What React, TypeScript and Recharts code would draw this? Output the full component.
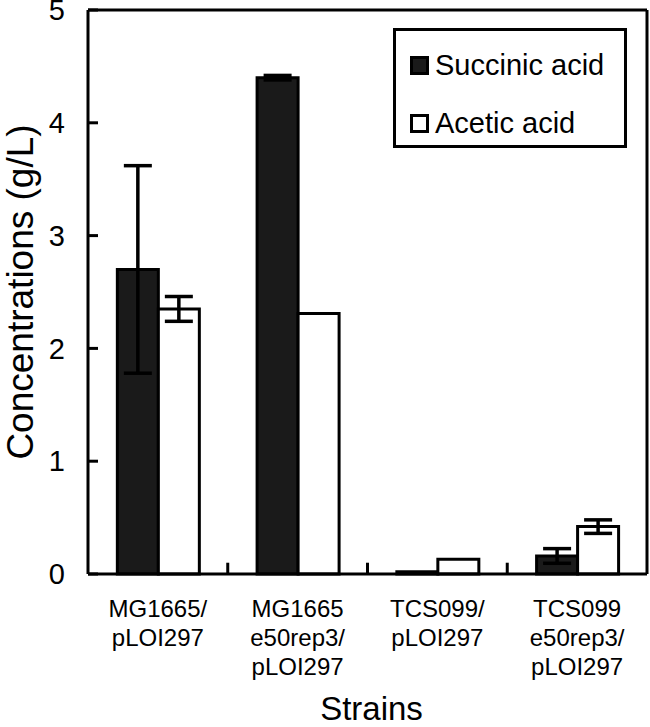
import React from "react";
import { BarChart, Bar, XAxis, YAxis, ErrorBar, Legend, ReferenceLine } from "recharts";

// strains on the x axis (line breaks as in the figure)
const strains = [
  "MG1665/\npLOI297",
  "MG1665\ne50rep3/\npLOI297",
  "TCS099/\npLOI297",
  "TCS099\ne50rep3/\npLOI297",
];
const seriesNames = ["Succinic acid", "Acetic acid"];
const succinic = [2.7, 4.4, 0.02, 0.16];
const succinicErr = [0.92, 0.02, 0, 0.065];
const acetic = [2.35, 2.31, 0.13, 0.42];
const aceticErr = [0.11, 0, 0, 0.06];
const yTicks = [0, 1, 2, 3, 4, 5];

const FONT = "'Liberation Sans', Arial, Helvetica, sans-serif";

const data = strains.map((strain, i) => ({
  strain,
  succinic: succinic[i],
  succinicErr: succinicErr[i],
  acetic: acetic[i],
  aceticErr: aceticErr[i],
}));

const StrainTick = (props: any) => {
  const { x, y, payload } = props;
  const lines = String(payload.value).split("\n");
  return (
    <text x={x} y={y} textAnchor="middle" fontSize={24} fontFamily={FONT} fill="#000">
      {lines.map((l, i) => (
        <tspan key={i} x={x} dy={i === 0 ? 43 : 29}>
          {l}
        </tspan>
      ))}
    </text>
  );
};

const LegendBox = (props: any) => {
  const items = [...(props.payload || [])].sort(
    (a: any, b: any) => seriesNames.indexOf(a.value) - seriesNames.indexOf(b.value)
  );
  return (
    <div
      style={{
        position: "relative",
        width: 234,
        height: 120,
        border: "3px solid #000",
        boxSizing: "border-box",
        background: "#fff",
        fontFamily: FONT,
        fontSize: 29,
        color: "#000",
      }}
    >
      {items.map((entry: any, i: number) => (
        <div
          key={entry.value}
          style={{
            position: "absolute",
            left: 14,
            top: 17 + i * 58,
            height: 34,
            display: "flex",
            alignItems: "center",
            whiteSpace: "nowrap",
          }}
        >
          <span
            style={{
              display: "inline-block",
              width: 19,
              height: 19,
              boxSizing: "border-box",
              border: "3px solid #000",
              background: entry.color,
              marginRight: 6,
            }}
          />
          <span>{entry.value}</span>
        </div>
      ))}
    </div>
  );
};

export default function App() {
  return (
    <div style={{ position: "absolute", left: 0, top: 0, background: "#fff" }}>
      <BarChart
        width={650}
        height={727}
        data={data}
        margin={{ top: 10, right: 3, bottom: 0, left: 0 }}
        barCategoryGap="21%"
        barGap={0}
      >
        <XAxis
          dataKey="strain"
          height={153}
          interval={0}
          tick={<StrainTick />}
          tickLine={false}
          tickSize={0}
          tickMargin={0}
          axisLine={{ stroke: "#000", strokeWidth: 3 }}
          label={{
            value: "Strains",
            position: "insideBottom",
            offset: 7,
            dx: 4,
            fontSize: 33,
            fill: "#000",
            fontFamily: FONT,
          }}
        />
        <YAxis
          width={88}
          domain={[0, 5]}
          ticks={yTicks}
          interval={0}
          tickSize={-10}
          tickMargin={33}
          tick={{ fontSize: 29, fill: "#000", fontFamily: FONT }}
          tickLine={{ stroke: "#000", strokeWidth: 3 }}
          axisLine={{ stroke: "#000", strokeWidth: 3 }}
          label={{
            value: "Concentrations (g/L)",
            angle: -90,
            position: "center",
            dx: -24,
            fontSize: 37,
            fill: "#000",
            fontFamily: FONT,
          }}
        />
        {/* frame: top and right edges of the plot box */}
        <ReferenceLine y={5} stroke="#000" strokeWidth={3} ifOverflow="visible" />
        <ReferenceLine
          x={strains[strains.length - 1]}
          position="end"
          stroke="#000"
          strokeWidth={3}
          ifOverflow="visible"
        />
        {/* short tick marks between strain groups */}
        {strains.slice(1).map((s) => (
          <ReferenceLine
            key={s}
            position="start"
            segment={[
              { x: s, y: 0 },
              { x: s, y: 0.1 },
            ]}
            stroke="#000"
            strokeWidth={3}
            ifOverflow="visible"
          />
        ))}
        <Legend
          layout="horizontal"
          verticalAlign="middle"
          align="center"
          content={<LegendBox />}
          wrapperStyle={{ left: 393, top: 28, width: 234, height: 120 }}
        />
        <Bar
          dataKey="succinic"
          name="Succinic acid"
          fill="#1a1a1a"
          stroke="#000"
          strokeWidth={3}
          isAnimationActive={false}
        >
          <ErrorBar dataKey="succinicErr" width={14} stroke="#000" strokeWidth={3.5} />
        </Bar>
        <Bar
          dataKey="acetic"
          name="Acetic acid"
          fill="#ffffff"
          stroke="#000"
          strokeWidth={3}
          isAnimationActive={false}
        >
          <ErrorBar dataKey="aceticErr" width={14} stroke="#000" strokeWidth={3.5} />
        </Bar>
      </BarChart>
    </div>
  );
}
